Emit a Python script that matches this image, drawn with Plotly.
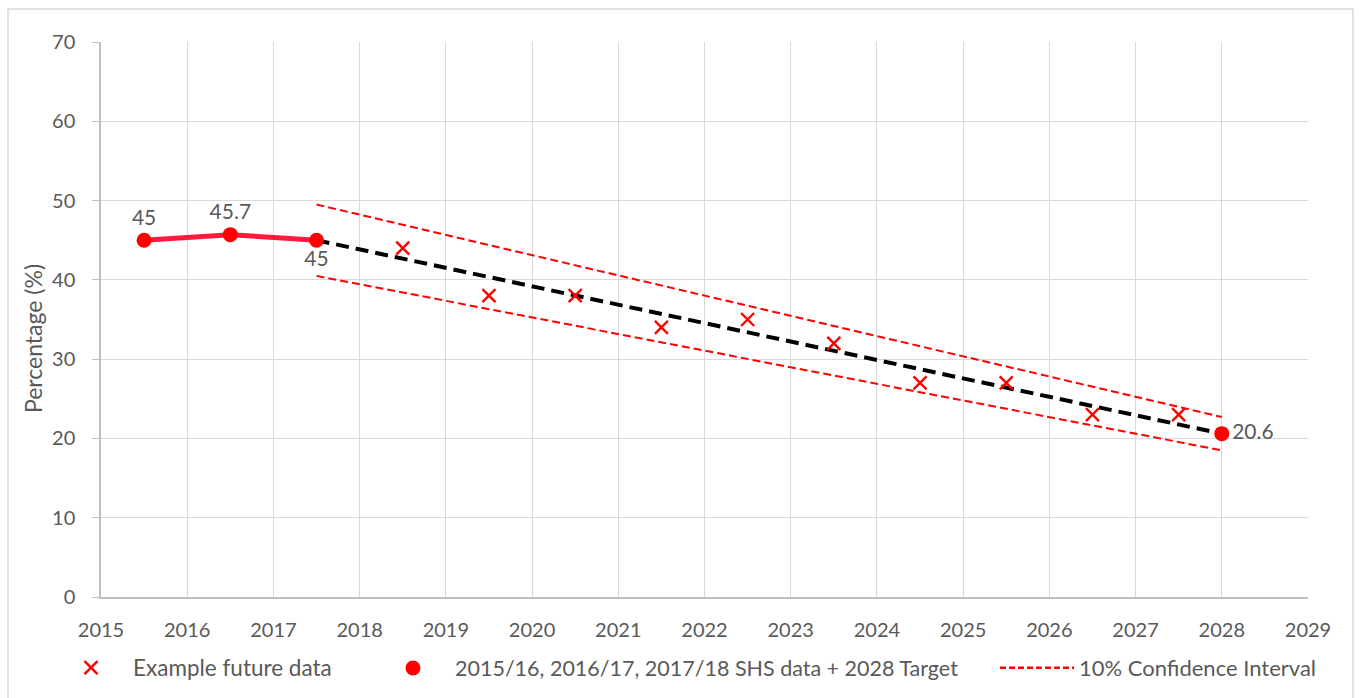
import plotly.graph_objects as go

# Data
shs_years = [2015.5, 2016.5, 2017.5]
shs_values = [45, 45.7, 45]
dot_years = [2015.5, 2016.5, 2017.5, 2028]
dot_values = [45, 45.7, 45, 20.6]
dot_labels = ["45", "45.7", "45", "20.6"]
future_years = [2018.5, 2019.5, 2020.5, 2021.5, 2022.5, 2023.5, 2024.5, 2025.5, 2026.5, 2027.5]
future_values = [44, 38, 38, 34, 35, 32, 27, 27, 23, 23]
trend_years = [2017.5, 2028]
trend_values = [45, 20.6]
ci_upper = [49.5, 22.7]
ci_lower = [40.5, 18.5]
x_ticks = list(range(2015, 2030))
y_ticks = list(range(0, 71, 10))

FONT = "Lato, Liberation Sans, Arial, sans-serif"
GRAY = "#595959"
RED = "#FF0000"

L, T, W, H = 101, 42, 1207, 555  # plot area in pixels


def px_x(p):
    return (p - L) / W


def px_y(p):
    return (T + H - p) / H


fig = go.Figure()

# CI lines
fig.add_trace(go.Scatter(x=trend_years, y=ci_upper, mode="lines",
                         line=dict(color=RED, width=2, dash="8px,4px"),
                         showlegend=False, hoverinfo="skip"))
fig.add_trace(go.Scatter(x=trend_years, y=ci_lower, mode="lines",
                         line=dict(color=RED, width=2, dash="8px,4px"),
                         showlegend=False, hoverinfo="skip"))
# Trend
fig.add_trace(go.Scatter(x=trend_years, y=trend_values, mode="lines",
                         line=dict(color="black", width=4, dash="13px,7px"),
                         showlegend=False))
# SHS line
fig.add_trace(go.Scatter(x=shs_years, y=shs_values, mode="lines",
                         line=dict(color="#FF1A3C", width=5),
                         showlegend=False))
# Future crosses
fig.add_trace(go.Scatter(x=future_years, y=future_values, mode="markers",
                         marker=dict(symbol="x-thin", size=13, color=RED,
                                     line=dict(color=RED, width=2.4)),
                         name="Example future data", legend="legend"))
# Dots
fig.add_trace(go.Scatter(x=dot_years, y=dot_values, mode="markers+text",
                         marker=dict(symbol="circle", size=15, color=RED),
                         text=dot_labels,
                         textposition=["top center", "top center", "bottom center", "middle right"],
                         textfont=dict(family=FONT, size=21, color=GRAY),
                         name="2015/16, 2016/17, 2017/18 SHS data + 2028 Target",
                         legend="legend2"))
# Legend-only CI entry
fig.add_trace(go.Scatter(x=[None], y=[None], mode="lines",
                         line=dict(color=RED, width=2.5, dash="6px,3px"),
                         name="10% Confidence Interval", legend="legend3"))

leg_y = px_y(668)


def leg(xpx, size):
    return dict(x=px_x(xpx), y=leg_y, xanchor="left", yanchor="middle",
                font=dict(family=FONT, size=size, color=GRAY),
                bgcolor="rgba(0,0,0,0)", itemwidth=74)


fig.update_layout(
    width=1359, height=698,
    margin=dict(l=L, r=1359 - L - W, t=T, b=698 - T - H, autoexpand=False),
    paper_bgcolor="white", plot_bgcolor="white",
    font=dict(family=FONT, size=20, color=GRAY),
    legend=leg(49, 22.5),
    legend2=leg(371, 21.5),
    legend3=leg(995, 22),
    xaxis=dict(range=[2015, 2029], tickmode="array", tickvals=x_ticks,
               showgrid=True, gridcolor="#D9D9D9", gridwidth=1,
               showline=True, linecolor="#BFBFBF", linewidth=1.5,
               ticks="", zeroline=False, ticklabelstandoff=14,
               tickfont=dict(family=FONT, size=20, color=GRAY)),
    yaxis=dict(range=[0, 70], tickmode="array", tickvals=y_ticks,
               showgrid=True, gridcolor="#D9D9D9", gridwidth=1,
               showline=True, linecolor="#BFBFBF", linewidth=1.5,
               ticks="outside", ticklen=7, tickcolor="#BFBFBF",
               zeroline=False, ticklabelstandoff=13,
               tickfont=dict(family=FONT, size=20, color=GRAY)),
    annotations=[dict(text="Percentage (%)", textangle=-90, showarrow=False,
                      xref="paper", yref="paper", x=px_x(33), y=px_y(339),
                      xanchor="center", yanchor="middle",
                      font=dict(family=FONT, size=23, color=GRAY))],
    shapes=[dict(type="rect", xref="paper", yref="paper",
                 x0=px_x(8), x1=px_x(1353), y0=px_y(708), y1=px_y(9),
                 line=dict(color="#D9D9D9", width=1.5), fillcolor="rgba(0,0,0,0)", layer="below")],
)

fig.write_html("out.html", config={"displayModeBar": False},
               post_script="document.body.style.margin='0';")
